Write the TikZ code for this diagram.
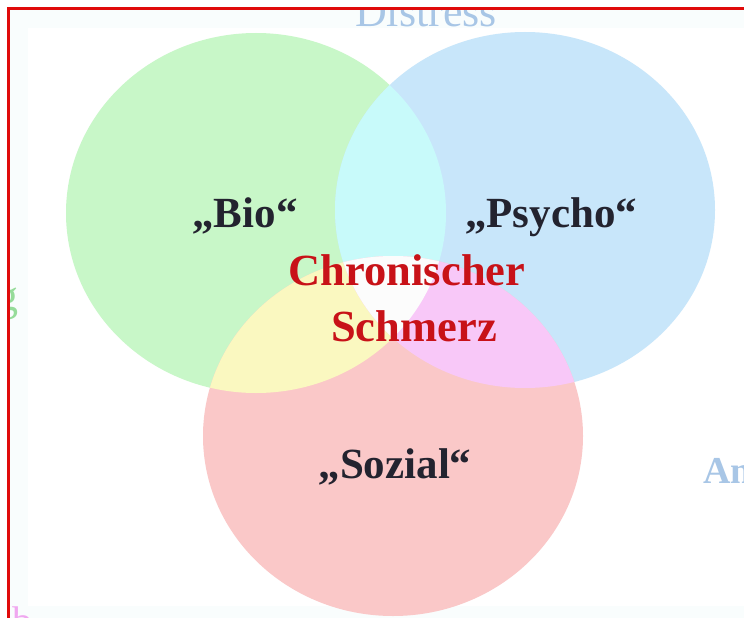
\documentclass[tikz,border=0pt]{standalone}
\usepackage{fontspec}
\setmainfont{Liberation Serif}
\definecolor{cgreen}{HTML}{C8F7C8}
\definecolor{cblue}{HTML}{C8E6FA}
\definecolor{cred}{HTML}{FAC8C8}
\definecolor{ccyan}{HTML}{C8FAFA}
\definecolor{cyellow}{HTML}{FAF8C0}
\definecolor{cpink}{HTML}{F8C8F8}
\definecolor{ccenter}{HTML}{FCFCFC}
\definecolor{labelcol}{HTML}{23232F}
\definecolor{redtxt}{HTML}{C81218}
\definecolor{frame}{HTML}{E00A0A}
\definecolor{faintbg}{HTML}{F9FDFD}
\definecolor{ghostblue}{HTML}{A8C6E6}
\definecolor{ghostgreen}{HTML}{96DC9A}
\definecolor{ghostpink}{HTML}{F0A8F0}
\begin{document}
\begin{tikzpicture}[x=1pt,y=-1pt,
  lbl/.style={font=\fontsize{43}{43}\selectfont\bfseries, text=labelcol, inner sep=0pt, anchor=base},
  redlbl/.style={font=\fontsize{44.5}{44.5}\selectfont\bfseries, text=redtxt, inner sep=0pt, anchor=base},
  ghost/.style={font=\fontsize{44}{44}\selectfont, inner sep=0pt}]
\useasboundingbox (0,0) rectangle (744,618);
\fill[white] (0,0) rectangle (744,618);
\fill[faintbg] (8,8) rectangle (744,618);
\fill[white] (28,28) rectangle (744,606);
% ellipse centres
\coordinate (G) at (256,213);
\coordinate (B) at (525,210);
\coordinate (R) at (393,436);
\fill[cgreen] (G) ellipse [x radius=190pt, y radius=180pt];
\fill[cblue] (B) ellipse [x radius=190pt, y radius=178pt];
\fill[cred] (R) ellipse [x radius=190pt, y radius=180pt];
\begin{scope}
  \clip (G) ellipse [x radius=190pt, y radius=180pt];
  \fill[ccyan] (B) ellipse [x radius=190pt, y radius=178pt];
  \fill[cyellow] (R) ellipse [x radius=190pt, y radius=180pt];
\end{scope}
\begin{scope}
  \clip (B) ellipse [x radius=190pt, y radius=178pt];
  \fill[cpink] (R) ellipse [x radius=190pt, y radius=180pt];
\end{scope}
\begin{scope}
  \clip (G) ellipse [x radius=190pt, y radius=180pt];
  \clip (B) ellipse [x radius=190pt, y radius=178pt];
  \fill[ccenter] (R) ellipse [x radius=190pt, y radius=180pt];
\end{scope}
% labels
\node[lbl] (bio) at (245,227) {„Bio“};
\node[lbl] (psycho) at (551,227) {„Psycho“};
\node[lbl] (sozial) at (395,478) {„Sozial“};
\node[redlbl] (chron) at (407,285) {Chronischer};
\node[redlbl] (schmerz) at (414,341) {Schmerz};
% cut-off texts at the edges
\node[ghost, text=ghostblue, anchor=base] (distress) at (426,27) {Distress};
\node[ghost, text=ghostgreen, anchor=base east] (gfrag) at (19,310) {g};
\node[ghost, text=ghostblue, anchor=base west, font=\fontsize{38}{38}\selectfont\bfseries] (an) at (703,483) {An};
\node[ghost, text=ghostpink, anchor=base west, font=\fontsize{40}{40}\selectfont] (pfrag) at (12,634) {b};
% mask outside the frame
\fill[white] (0,0) rectangle (744,7);
\fill[white] (0,0) rectangle (7,618);
% red frame
\draw[frame, line width=3pt] (8.5,618) -- (8.5,8.5) -- (744,8.5);
\end{tikzpicture}
\end{document}
